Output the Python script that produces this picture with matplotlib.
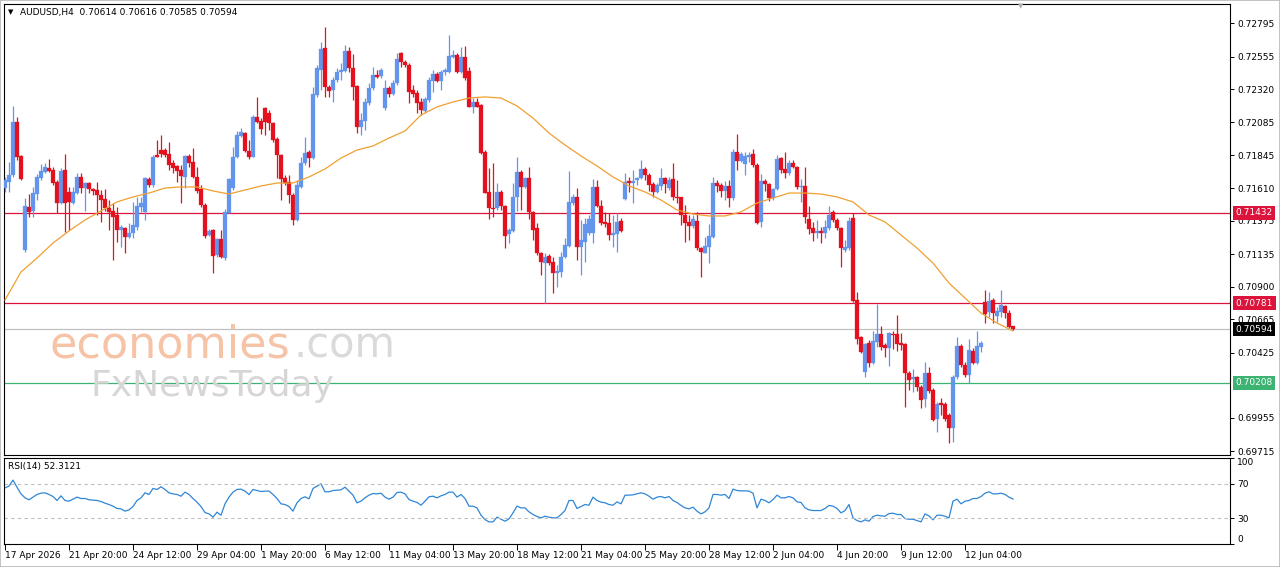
import numpy as np
import matplotlib.pyplot as plt
from matplotlib.transforms import blended_transform_factory
from matplotlib.ticker import FormatStrFormatter
from matplotlib.patches import Rectangle

plt.rcParams.update({"font.family": "DejaVu Sans", "font.size": 6.5})

# AUDUSD H4 bars, prices in points (1e-5)
opens_pts = [
    71608, 71656, 71704, 72088, 71841, 71164, 71471, 71447, 71567, 71680,
    71728, 71752, 71740, 71656, 71505, 71740, 71584, 71505, 71577, 71687,
    71608, 71644, 71601, 71596, 71560, 71529, 71464, 71447, 71416, 71308,
    71320, 71255, 71284, 71332, 71476, 71440, 71675, 71632, 71848, 71884,
    71884, 71855, 71788, 71769, 71740, 71692, 71841, 71800, 71692, 71601,
    71488, 71272, 71308, 71128, 71241, 71104, 71428, 71608, 71831, 71985,
    72009, 71879, 71836, 72119, 72095, 72184, 72148, 72076, 71961, 71848,
    71680, 71656, 71560, 71380, 71620, 71788, 71872, 71824, 72280, 72460,
    72616, 72335, 72316, 72388, 72448, 72455, 72599, 72472, 72345, 72052,
    72095, 72225, 72328, 72424, 72417, 72184, 72328, 72287, 72364, 72585,
    72520, 72496, 72316, 72297, 72232, 72167, 72244, 72383, 72431, 72383,
    72448, 72448, 72556, 72568, 72448, 72551, 72455, 72196, 72232, 72208,
    71872, 71584, 71464, 71464, 71584, 71481, 71279, 71303, 71543, 71728,
    71620, 71680, 71440, 71320, 71140, 71073, 71121, 71080, 71001, 71008,
    71111, 71193, 71505, 71543, 71183, 71224, 71289, 71289, 71615, 71481,
    71368, 71361, 71272, 71279, 71375, 71529, 71663, 71644, 71668, 71680,
    71745, 71704, 71639, 71584, 71625, 71680, 71608, 71673, 71548, 71543,
    71416, 71368, 71337, 71375, 71176, 71145, 71188, 71260, 71644, 71632,
    71591, 71625, 71536, 71872, 71807, 71783, 71836, 71855, 71776, 71368,
    71663, 71639, 71536, 71601, 71824, 71745, 71716, 71793, 71759, 71615,
    71625, 71385, 71320, 71284, 71303, 71289, 71320, 71440, 71380, 71320,
    71164, 71176, 71395, 70804, 70540, 70288, 70497, 70353, 70504, 70559,
    70480, 70456, 70559, 70559, 70492, 70487, 70281, 70233, 70247, 70180,
    70089, 70276, 70156, 69945, 70065, 70055, 69976, 69880, 70247, 70473,
    70336, 70264, 70439, 70353, 70468, 70792, 70720, 70804, 70689, 70720,
    70761, 70713, 70614,
]
highs_pts = [
    71692, 71800, 72201, 72124, 71848, 71536, 71565, 71620, 71711, 71783,
    71788, 71817, 71764, 71668, 71752, 71855, 71620, 71620, 71716, 71721,
    71656, 71656, 71608, 71656, 71596, 71601, 71524, 71500, 71476, 71344,
    71332, 71356, 71512, 71548, 71548, 71692, 71692, 71848, 71956, 71992,
    71896, 71944, 71812, 71776, 71776, 71848, 71855, 71896, 71764, 71632,
    71500, 71313, 71313, 71248, 71308, 71457, 71680, 71908, 72023, 72040,
    72016, 71956, 72136, 72268, 72112, 72196, 72172, 72088, 71975, 71855,
    71704, 71704, 71572, 71668, 71836, 71975, 71884, 72340, 72496, 72664,
    72772, 72352, 72407, 72472, 72508, 72640, 72628, 72575, 72352, 72148,
    72256, 72364, 72484, 72460, 72472, 72388, 72345, 72388, 72580, 72592,
    72532, 72508, 72352, 72316, 72256, 72268, 72412, 72460, 72448, 72460,
    72472, 72712, 72604, 72580, 72628, 72633, 72484, 72256, 72256, 72215,
    71884, 71752, 71788, 71649, 71596, 71488, 71320, 71644, 71836, 71740,
    71692, 71759, 71447, 71356, 71152, 71145, 71135, 71116, 71056, 71152,
    71248, 71735, 71567, 71608, 71380, 71392, 71416, 71673, 71668, 71524,
    71440, 71433, 71416, 71428, 71392, 71716, 71692, 71740, 71692, 71812,
    71764, 71716, 71656, 71644, 71752, 71692, 71692, 71788, 71668, 71548,
    71488, 71416, 71416, 71440, 71188, 71260, 71351, 71687, 71668, 71644,
    71663, 71668, 71889, 71999, 71872, 71872, 71872, 71889, 71788, 71711,
    71673, 71644, 71608, 71848, 71836, 71872, 71812, 71812, 71769, 71673,
    71759, 71481, 71368, 71380, 71332, 71380, 71481, 71452, 71392, 71332,
    71236, 71399, 71432, 70864, 70545, 70497, 70516, 70583, 70775, 70617,
    70492, 70576, 70583, 70696, 70569, 70497, 70295, 70305, 70257, 70192,
    70360, 70324, 70168, 70072, 70096, 70072, 69988, 70264, 70540, 70487,
    70360, 70521, 70456, 70583, 70511, 70876, 70864, 70816, 70756, 70876,
    70768, 70732, 70616,
]
lows_pts = [
    71584, 71584, 71692, 71812, 71668, 71152, 71404, 71399, 71524, 71668,
    71716, 71728, 71632, 71428, 71495, 71296, 71308, 71495, 71567, 71572,
    71447, 71572, 71560, 71416, 71368, 71447, 71308, 71092, 71224, 71188,
    71140, 71248, 71248, 71308, 71440, 71380, 71620, 71620, 71831, 71836,
    71836, 71740, 71716, 71656, 71500, 71608, 71764, 71680, 71577, 71476,
    71248, 71265, 71001, 71116, 71104, 71092, 71428, 71596, 71824, 71980,
    71872, 71817, 71831, 72076, 71999, 71992, 72028, 71944, 71680, 71524,
    71632, 71500, 71344, 71375, 71608, 71776, 71764, 71817, 72268, 72316,
    72268, 72268, 72232, 72376, 72388, 72448, 72448, 72244, 72004, 71992,
    72028, 72208, 72316, 72400, 72400, 72172, 72268, 72280, 72352, 72484,
    72484, 72220, 72268, 72148, 72136, 72148, 72232, 72304, 72376, 72316,
    72424, 72436, 72544, 72436, 72436, 72388, 72191, 72148, 72191, 71855,
    71572, 71385, 71404, 71452, 71452, 71176, 71212, 71296, 71447, 71452,
    71608, 71385, 71236, 71128, 70984, 70780, 71056, 70852, 70900, 70972,
    71104, 71188, 71488, 71092, 70984, 71080, 71272, 71212, 71476, 71344,
    71327, 71236, 71183, 71152, 71296, 71524, 71584, 71505, 71632, 71673,
    71668, 71591, 71548, 71572, 71596, 71572, 71596, 71524, 71500, 71344,
    71224, 71236, 71320, 71164, 70967, 71140, 71068, 71248, 71584, 71548,
    71524, 71476, 71524, 71740, 71800, 71704, 71800, 71759, 71351, 71332,
    71591, 71519, 71524, 71596, 71721, 71680, 71704, 71752, 71601, 71512,
    71356, 71279, 71231, 71248, 71212, 71248, 71308, 71368, 71308, 71039,
    71152, 71164, 70792, 70487, 70420, 70252, 70324, 70343, 70468, 70444,
    70396, 70329, 70449, 70439, 70444, 70031, 70156, 70144, 70151, 70024,
    70036, 70132, 69935, 69856, 69976, 69935, 69772, 69784, 70233, 70324,
    70247, 70204, 70343, 70343, 70432, 70636, 70684, 70636, 70648, 70684,
    70672, 70600, 70585,
]
closes_pts = [
    71668, 71704, 72088, 71836, 71673, 71481, 71440, 71572, 71687, 71735,
    71759, 71735, 71649, 71505, 71735, 71505, 71512, 71584, 71687, 71608,
    71644, 71601, 71591, 71560, 71524, 71464, 71440, 71404, 71308, 71327,
    71255, 71284, 71344, 71481, 71505, 71680, 71632, 71836, 71836, 71855,
    71848, 71776, 71752, 71735, 71697, 71841, 71793, 71687, 71591, 71488,
    71265, 71303, 71121, 71241, 71116, 71440, 71673, 71836, 71992, 72011,
    71879, 71836, 72124, 72088, 72033, 72088, 72076, 71956, 71848, 71673,
    71644, 71560, 71380, 71632, 71788, 71865, 71824, 72287, 72472, 72609,
    72335, 72311, 72388, 72448, 72460, 72599, 72472, 72335, 72052, 72100,
    72232, 72328, 72424, 72412, 72460, 72328, 72287, 72364, 72537, 72520,
    72496, 72304, 72287, 72225, 72172, 72249, 72388, 72431, 72383, 72448,
    72460, 72561, 72568, 72448, 72551, 72400, 72196, 72232, 72196, 71860,
    71577, 71464, 71457, 71584, 71481, 71265, 71308, 71543, 71728, 71615,
    71680, 71440, 71308, 71140, 71080, 71111, 71073, 71001, 71013, 71116,
    71200, 71512, 71543, 71183, 71236, 71351, 71385, 71620, 71481, 71356,
    71351, 71272, 71284, 71368, 71303, 71656, 71644, 71663, 71680, 71745,
    71704, 71632, 71584, 71632, 71680, 71639, 71668, 71548, 71536, 71416,
    71361, 71337, 71385, 71176, 71152, 71193, 71265, 71644, 71625, 71591,
    71625, 71536, 71872, 71807, 71855, 71841, 71848, 71776, 71361, 71663,
    71639, 71536, 71601, 71817, 71740, 71716, 71788, 71759, 71620, 71625,
    71404, 71313, 71284, 71303, 71284, 71332, 71416, 71380, 71320, 71176,
    71188, 71375, 70799, 70521, 70432, 70487, 70353, 70511, 70559, 70468,
    70456, 70564, 70552, 70487, 70480, 70276, 70228, 70252, 70180, 70084,
    70281, 70151, 69940, 70055, 70048, 69945, 69880, 70252, 70473, 70336,
    70264, 70444, 70353, 70473, 70492, 70703, 70799, 70713, 70727, 70768,
    70708, 70607, 70594,
]

# moving average, sampled every 4th bar
ma_bars = list(range(0, 253, 4))
ma_pts = [
    70804, 71006, 71106, 71214, 71301, 71380, 71445, 71510, 71546, 71574,
    71610, 71618, 71618, 71589, 71567, 71596, 71625, 71646, 71646, 71690,
    71747, 71826, 71884, 71913, 71970, 72021, 72136, 72194, 72230, 72258,
    72266, 72258, 72201, 72114, 72006, 71920, 71841, 71769, 71690, 71625,
    71582, 71524, 71452, 71423, 71409, 71409, 71438, 71502, 71538, 71574,
    71574, 71567, 71546, 71510, 71416, 71366, 71272, 71178, 71070, 70926,
    70818, 70710, 70638, 70581,
]

rsi = [
    65.3, 67.3, 74.3, 66.0, 58.3, 53.7, 51.4, 54.5, 57.6, 59.1,
    59.5, 57.6, 55.2, 50.6, 56.0, 50.6, 49.8, 52.1, 54.5, 52.9,
    52.9, 51.4, 51.0, 50.6, 49.4, 47.5, 45.9, 44.0, 41.3, 40.9,
    38.2, 39.7, 43.6, 50.6, 53.7, 59.5, 57.6, 64.6, 63.4, 66.5,
    63.4, 59.5, 58.3, 57.6, 55.6, 60.3, 57.6, 52.9, 48.6, 43.6,
    36.6, 35.0, 31.2, 37.0, 33.5, 46.7, 54.5, 60.3, 63.4, 63.8,
    61.5, 57.6, 63.4, 62.2, 61.0, 61.5, 61.5, 57.6, 52.9, 46.7,
    45.9, 43.6, 38.2, 47.9, 52.9, 54.9, 52.5, 64.6, 67.3, 70.0,
    60.7, 60.7, 62.2, 62.6, 63.0, 66.1, 61.5, 56.8, 47.9, 49.8,
    53.7, 56.8, 58.7, 58.3, 59.1, 54.5, 52.1, 54.5, 59.9, 60.3,
    58.3, 51.7, 49.8, 48.3, 45.1, 49.8, 54.9, 55.6, 53.7, 56.0,
    57.6, 60.3, 60.3, 54.5, 57.6, 52.9, 44.0, 44.0, 42.0, 33.5,
    28.4, 25.7, 25.7, 31.2, 28.8, 26.5, 29.2, 36.2, 44.0, 42.0,
    42.0, 37.4, 34.3, 31.9, 30.4, 32.3, 31.2, 30.4, 30.4, 34.3,
    38.9, 50.6, 50.6, 41.3, 43.6, 45.9, 45.1, 54.5, 50.6, 48.6,
    47.9, 45.9, 45.1, 49.0, 46.7, 56.8, 56.8, 57.2, 58.3, 59.5,
    58.3, 55.6, 52.1, 54.5, 55.2, 53.7, 55.2, 50.6, 48.3, 44.8,
    42.0, 40.9, 42.8, 38.2, 35.0, 37.4, 42.0, 57.6, 57.6, 56.8,
    57.6, 52.9, 63.8, 62.2, 61.8, 61.8, 61.5, 59.1, 42.0, 52.1,
    50.6, 47.9, 51.7, 56.8, 53.7, 53.7, 55.2, 53.7, 49.0, 48.3,
    42.0, 39.7, 38.9, 38.9, 38.9, 41.3, 44.8, 44.0, 41.3, 36.2,
    38.9, 45.9, 30.4, 27.3, 25.7, 28.1, 26.5, 31.9, 33.5, 32.7,
    32.3, 35.4, 35.8, 34.3, 34.3, 29.6, 28.8, 28.8, 27.3, 25.7,
    35.0, 32.7, 28.1, 33.5, 33.5, 32.3, 30.4, 49.8, 52.1, 46.7,
    49.8, 50.6, 52.9, 52.9, 55.2, 59.1, 60.7, 58.3, 58.3, 59.1,
    57.6, 54.5, 52.3121,
]

# 0.70190 sits under the green level box in the original, so it is left out
price_ticks = [0.72795, 0.72555, 0.72320, 0.72085, 0.71845, 0.71610, 0.71375,
               0.71135, 0.70900, 0.70665, 0.70425, 0.69955, 0.69715]
date_labels = ["17 Apr 2026", "21 Apr 20:00", "24 Apr 12:00", "29 Apr 04:00",
               "1 May 20:00", "6 May 12:00", "11 May 04:00", "13 May 20:00",
               "18 May 12:00", "21 May 04:00", "25 May 20:00", "28 May 12:00",
               "2 Jun 04:00", "4 Jun 20:00", "9 Jun 12:00", "12 Jun 04:00"]
resistance = [0.71432, 0.70781]
support = 0.70208
last_price = 0.70594

o = np.array(opens_pts) / 1e5
h = np.array(highs_pts) / 1e5
l = np.array(lows_pts) / 1e5
c = np.array(closes_pts) / 1e5
ma = np.array(ma_pts) / 1e5
x = np.arange(len(c))

BULL = "#6495ED"
BEAR = "#E3101E"
CRIMSON = "#DC143C"
GREEN = "#3CB371"

W, H = 1280, 567
fig = plt.figure(figsize=(12.8, 5.67), dpi=100)


def box(x0, y0, x1, y1):
    return [x0 / W, 1 - y1 / H, (x1 - x0) / W, (y1 - y0) / H]


ax = fig.add_axes(box(4, 4, 1230, 455))
ax_r = fig.add_axes(box(4, 458, 1230, 544))

# --- candles ---
up = c >= o
cols = np.where(up, BULL, BEAR)
ax.vlines(x, l, h, colors=cols, linewidth=0.9, zorder=3)
body_lo = np.minimum(o, c)
body_h = np.maximum(np.abs(c - o), 0.00008)
ax.bar(x, body_h, bottom=body_lo, width=0.8, color=cols, edgecolor=cols,
       linewidth=0.2, zorder=4)

ax.plot(ma_bars, ma, color="#F0A030", linewidth=0.9, zorder=5)

for lv in resistance:
    ax.axhline(lv, color=CRIMSON, linewidth=0.9, zorder=2)
ax.axhline(support, color=GREEN, linewidth=0.9, zorder=2)
ax.axhline(last_price, color="#C0C0C0", linewidth=0.9, zorder=2)

ax.set_xlim(-0.25, 306.25)
ax.set_ylim(0.69688, 0.72935)
ax.set_xticks([])
ax.yaxis.tick_right()
ax.set_yticks(price_ticks)
ax.yaxis.set_major_formatter(FormatStrFormatter("%.5f"))
ax.tick_params(axis="y", direction="out", length=3, width=0.7, pad=2,
               labelsize=6.5, colors="black")

tr = blended_transform_factory(ax.transAxes, ax.transData)
for lv, col in [(resistance[0], CRIMSON), (resistance[1], CRIMSON),
                (last_price, "black"), (support, GREEN)]:
    ax.text(1.0045, lv, f"{lv:.5f}", transform=tr, color="white", fontsize=6.5,
            va="center", ha="left", clip_on=False, zorder=10,
            bbox=dict(boxstyle="square,pad=0.3", fc=col, ec="none"))

ax.text(0.0033, 0.982, "\u25BC", transform=ax.transAxes, fontsize=5,
        va="center", ha="left")
ax.text(0.013, 0.982, "AUDUSD,H4  0.70614 0.70616 0.70585 0.70594",
        transform=ax.transAxes, fontsize=6.5, va="center", ha="left")

# watermark
fig.text(50 / W, 1 - 345 / H, "economies", color="#F6C3A6", fontsize=32,
         va="center", ha="left", zorder=0)
fig.text(294 / W, 1 - 345 / H, ".com", color="#DADADA", fontsize=30,
         va="center", ha="left", zorder=0)
fig.text(90 / W, 1 - 386 / H, "FxNewsToday", color="#D6D6D6", fontsize=26,
         va="center", ha="left", zorder=0)

# --- RSI ---
ax_r.plot(np.arange(len(rsi)), rsi, color="#2F86D6", linewidth=0.9)
for lv in (70, 30):
    ax_r.axhline(lv, color="#BDBDBD", linewidth=0.8, linestyle=(0, (3, 3)))
ax_r.set_xlim(-0.25, 306.25)
ax_r.set_ylim(0, 100)
ax_r.yaxis.tick_right()
ax_r.set_yticks([0, 30, 70, 100])
ax_r.set_yticklabels(["0", "30", "70", "100"])
ax_r.tick_params(axis="y", direction="out", length=3, width=0.7, pad=2,
                 labelsize=6.5)
ylabs = ax_r.get_yticklabels()
ylabs[0].set_va("bottom")
ylabs[3].set_va("top")
ax_r.set_xticks(np.arange(0, 241, 16))
ax_r.set_xticklabels(date_labels, ha="left")
ax_r.tick_params(axis="x", direction="out", length=4, width=0.7, pad=1,
                 labelsize=6.5)
ax_r.text(0.0033, 0.9, "RSI(14) 52.3121", transform=ax_r.transAxes,
          fontsize=6.5, va="center", ha="left")

for a in (ax, ax_r):
    for s in a.spines.values():
        s.set_linewidth(0.8)
        s.set_color("black")

fig.text(1021 / W, 1 - 6 / H, "\u25BC", color="#B0B0B0", fontsize=5,
         ha="center", va="center")
fig.patches.append(Rectangle((0, 0), 1, 1, transform=fig.transFigure,
                             fill=False, ec="#B8B8B8", lw=1.2))

fig.savefig("out.png", dpi=100, facecolor="white")
plt.close(fig)
